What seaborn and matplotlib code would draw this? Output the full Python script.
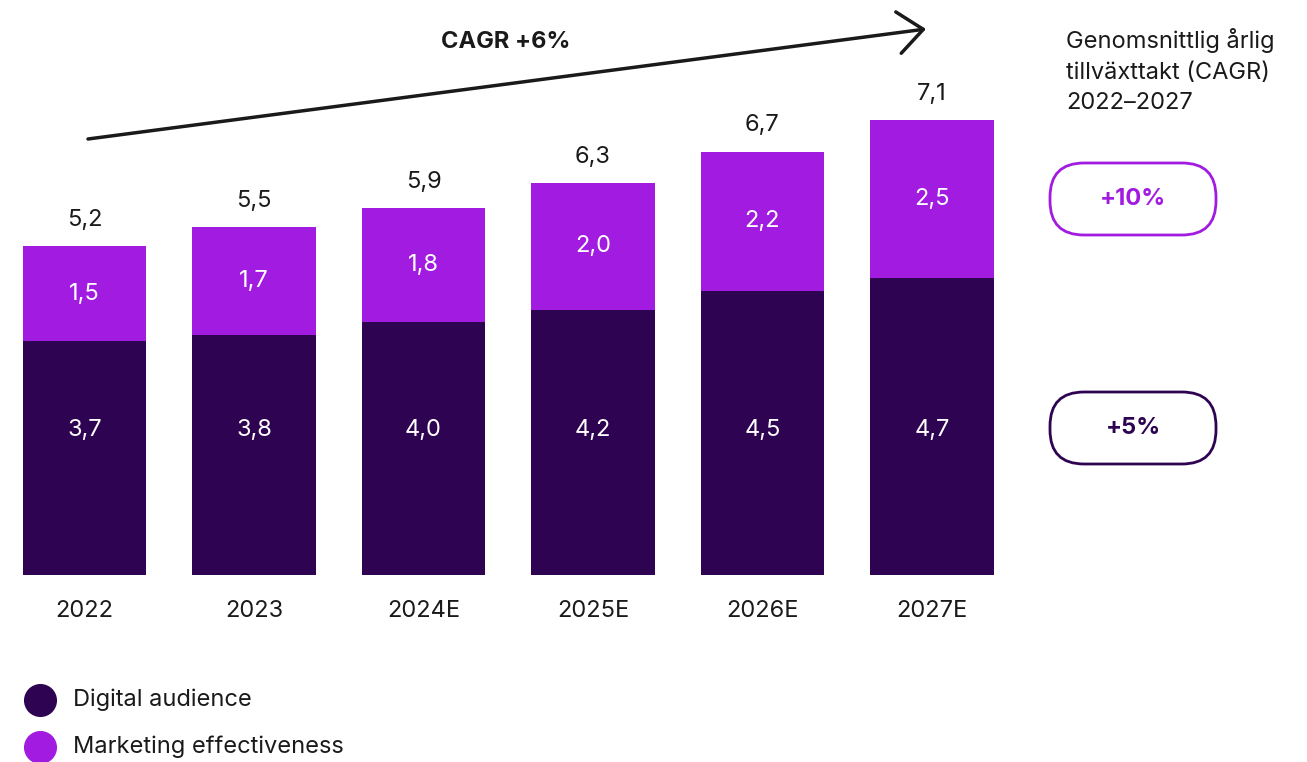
import matplotlib.pyplot as plt
import seaborn as sns
import pandas as pd
from matplotlib.patches import FancyBboxPatch

years = ['2022', '2023', '2024E', '2025E', '2026E', '2027E']
digital = [3.7, 3.8, 4.0, 4.2, 4.5, 4.7]
marketing = [1.5, 1.7, 1.8, 2.0, 2.2, 2.5]
total_labels = ['5,2', '5,5', '5,9', '6,3', '6,7', '7,1']
cagr_series = ['+10%', '+5%']
legend_labels = ['Digital audience', 'Marketing effectiveness']

dark = '#2E0351'
purple = '#A11BE0'
ink = '#1a1a1a'
fs = 17

df = pd.DataFrame({'year': years, 'digital': digital, 'marketing': marketing})
df['total'] = df['digital'] + df['marketing']

sns.set_style('white')
plt.rcParams['font.family'] = ['Inter', 'DejaVu Sans']

W, H = 1307, 762
fig = plt.figure(figsize=(W / 100, H / 100), dpi=100)

# main axes placed in pixels: bar base at y=575, first bar center x=84.5, step 169.5
px_unit = 63.2
ax = fig.add_axes([0, (H - 575) / H, 1, 575 / H])
sns.barplot(data=df, x='year', y='total', color=purple, width=0.726,
            saturation=1, linewidth=0, ax=ax, order=years)
sns.barplot(data=df, x='year', y='digital', color=dark, width=0.726,
            saturation=1, linewidth=0, ax=ax, order=years)
ax.set_xlim(-84.5 / 169.5, (W - 84.5) / 169.5)
ax.set_ylim(0, 575 / px_unit)
for s in ax.spines.values():
    s.set_visible(False)
ax.set_yticks([])
ax.set_xlabel('')
ax.set_ylabel('')
ax.tick_params(axis='x', length=0, pad=18, labelsize=fs, colors=ink)

for i in range(len(years)):
    ax.text(i, df['total'][i] + 0.24, total_labels[i], ha='center', va='bottom',
            fontsize=fs, color=ink)
    ax.text(i, digital[i] + marketing[i] / 2, f'{marketing[i]:.1f}'.replace('.', ','),
            ha='center', va='center', fontsize=fs, color='white')
    ax.text(i, 2.29, f'{digital[i]:.1f}'.replace('.', ','),
            ha='center', va='center', fontsize=fs, color='white')

# overlay in pixel coordinates for annotations
ov = fig.add_axes([0, 0, 1, 1])
ov.set_xlim(0, W)
ov.set_ylim(H, 0)
ov.axis('off')
ov.patch.set_alpha(0)

ov.annotate('', xy=(926, 29), xytext=(88, 139),
            arrowprops=dict(arrowstyle='->,head_length=1.8,head_width=1.5',
                            lw=2.5, color=ink, shrinkA=0, shrinkB=0))
ov.text(506, 42, 'CAGR +6%', ha='center', va='center', fontsize=fs,
        fontweight='bold', color=ink)

ov.text(1066, 28, 'Genomsnittlig årlig\ntillväxttakt (CAGR)\n2022–2027',
        ha='left', va='top', fontsize=fs, color=ink, linespacing=1.5)

for label, col, y0 in [(cagr_series[0], purple, 163), (cagr_series[1], dark, 392)]:
    ov.add_patch(FancyBboxPatch((1050, y0), 166, 72,
                                boxstyle='round,pad=0,rounding_size=34',
                                fc='white', ec=col, lw=2))
    ov.text(1133, y0 + 36, label, ha='center', va='center', fontsize=fs,
            fontweight='bold', color=col)

for lab, col, y in zip(legend_labels, [dark, purple], [700, 747]):
    ov.scatter([40], [y], s=33 ** 2 * 0.52, color=col, linewidth=0)
    ov.text(73, y, lab, ha='left', va='center', fontsize=fs, color=ink)

plt.savefig('out.png', dpi=100)
